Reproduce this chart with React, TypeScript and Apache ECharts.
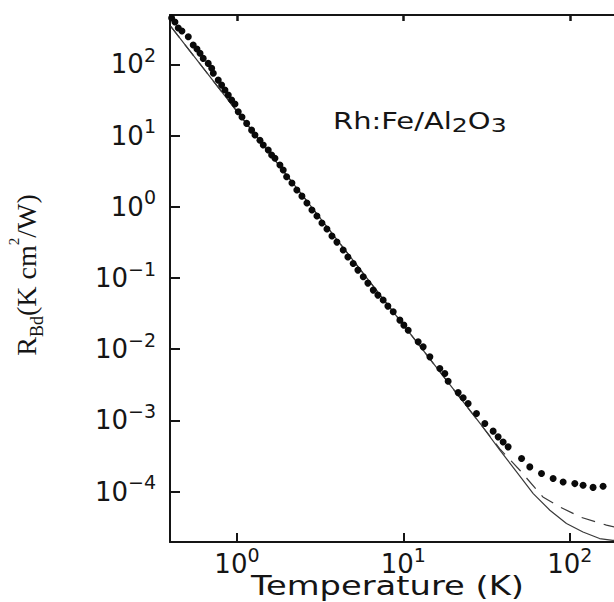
import React, { useEffect, useRef } from "react";
import * as echarts from "echarts";

// Measured data points (Temperature K, R_Bd K cm^2/W)
const dotT = [0.405, 0.424, 0.444, 0.467, 0.51, 0.546, 0.575, 0.6, 0.627, 0.672, 0.705, 0.721, 0.772, 0.809, 0.847, 0.887, 0.929, 0.973, 1.018, 1.072, 1.144, 1.225, 1.283, 1.374, 1.439, 1.542, 1.616, 1.692, 1.812, 1.897, 1.988, 2.14, 2.29, 2.457, 2.633, 2.822, 3.024, 3.24, 3.472, 3.721, 3.987, 4.35, 4.64, 4.995, 5.33, 5.74, 6.12, 6.59, 7.03, 7.56, 8.07, 8.69, 9.53, 10.07, 10.69, 12.27, 13.15, 14.43, 16.56, 17.75, 18.58, 21.34, 22.87, 24.5, 27.5, 30.87, 34.62, 37.1, 39.77, 42.6, 51.3, 57.5, 67.6, 79.4, 91.2, 107.2, 120.2, 138, 158.5];
const dotR = [447, 393, 324, 294, 244, 187, 164, 143, 121, 103, 88, 75, 60, 51, 43.5, 37, 31.5, 27.7, 21.6, 18.2, 14.8, 11.9, 10.2, 8.6, 7.36, 6.26, 5.32, 4.79, 3.85, 3.28, 2.64, 2.15, 1.72, 1.41, 1.127, 0.899, 0.74, 0.59, 0.486, 0.388, 0.319, 0.247, 0.1966, 0.16, 0.129, 0.104, 0.0848, 0.0676, 0.0575, 0.049, 0.0403, 0.0335, 0.0256, 0.0218, 0.0185, 0.0127, 0.0108, 0.00782, 0.00537, 0.00457, 0.00356, 0.00246, 0.00209, 0.00173, 0.00125, 9.08e-4, 7.08e-4, 5.89e-4, 5.0e-4, 4.26e-4, 2.92e-4, 2.23e-4, 1.8e-4, 1.53e-4, 1.37e-4, 1.3e-4, 1.23e-4, 1.15e-4, 1.19e-4];

// Solid model curve
const solidT = [0.4, 10, 30, 38, 47.9, 60.3, 75.9, 95.5, 120, 151, 181, 220];
const solidR = [340, 0.022, 8.1e-4, 3.83e-4, 1.9e-4, 9.4e-5, 5.5e-5, 3.57e-5, 2.72e-5, 2.2e-5, 2.08e-5, 2.0e-5];

// Dashed model curve
const dashT = [0.4, 10, 25, 38, 50.1, 68.9, 87.1, 117.5, 166, 220];
const dashR = [340, 0.022, 1.4e-3, 4.0e-4, 2.0e-4, 8.45e-5, 6.1e-5, 4.35e-5, 3.4e-5, 2.9e-5];

const SANS = "DejaVu Sans";
const SERIF = "Liberation Serif";
const INK = "#151515";

function powLabel(v: number) {
  const l = Math.log10(v);
  const e = Math.round(l);
  if (Math.abs(l - e) > 1e-6) return "";
  const s = e < 0 ? "\u2212" + -e : String(e);
  return `{b|10}{s|${s}}`;
}

const tickRich = {
  b: { fontFamily: SANS, fontSize: 26, lineHeight: 38, color: INK },
  s: { fontFamily: SANS, fontSize: 19, lineHeight: 19, verticalAlign: "top", color: INK },
};

export default function App() {
  const ref = useRef<HTMLDivElement>(null);
  useEffect(() => {
    if (!ref.current) return;
    const chart = echarts.init(ref.current, undefined, { renderer: "svg" });
    const pair = (xs: number[], ys: number[]) => xs.map((x, i) => [x, ys[i]]);
    const xCommon = {
      type: "log",
      min: 0.396,
      max: 316.2,
      splitNumber: 5,
      axisLine: { show: true, lineStyle: { color: INK, width: 2 } },
      splitLine: { show: false },
      minorTick: { show: false },
    };
    chart.setOption({
      animation: false,
      backgroundColor: "#ffffff",
      grid: { left: 170, top: 15, right: 0, bottom: 60 },
      xAxis: [
        {
          ...xCommon,
          position: "bottom",
          axisTick: { show: true, inside: true, length: 9, lineStyle: { color: INK, width: 2 } },
          axisLabel: { show: true, margin: 3, formatter: powLabel, rich: tickRich, showMinLabel: false, showMaxLabel: false },
        },
        {
          ...xCommon,
          position: "top",
          axisTick: { show: true, inside: true, length: 6, lineStyle: { color: INK, width: 2.5 } },
          axisLabel: { show: false },
        },
      ],
      yAxis: {
        type: "log",
        min: 1.968e-5,
        max: 492,
        splitNumber: 5,
        axisLine: { show: true, lineStyle: { color: INK, width: 2 } },
        axisTick: { show: true, inside: true, length: 10, lineStyle: { color: INK, width: 2 } },
        axisLabel: { show: true, margin: 14, formatter: powLabel, rich: tickRich, showMinLabel: false, showMaxLabel: false },
        splitLine: { show: false },
        minorTick: { show: false },
      },
      graphic: [
        {
          type: "text",
          x: 26,
          y: 275,
          rotation: Math.PI / 2,
          style: {
            text: "{r|R}{b|Bd}{n|(K cm}{s|2}{n|/W)}",
            align: "center",
            verticalAlign: "middle",
            fill: INK,
            rich: {
              r: { fontFamily: SERIF, fontSize: 28, lineHeight: 40, fill: INK },
              b: { fontFamily: SERIF, fontSize: 18, lineHeight: 24, verticalAlign: "bottom", fill: INK },
              n: { fontFamily: SERIF, fontSize: 28, lineHeight: 40, fill: INK },
              s: { fontFamily: SERIF, fontSize: 15, lineHeight: 26, verticalAlign: "top", fill: INK },
            },
          },
        },
        {
          type: "text",
          x: 387.5,
          y: 586,
          scaleX: 1.25,
          style: {
            text: "Temperature (K)",
            fontFamily: SANS,
            fontSize: 27,
            align: "center",
            verticalAlign: "middle",
            fill: INK,
          },
        },
        {
          type: "text",
          x: 333,
          y: 121,
          scaleX: 1.26,
          style: {
            text: "{a|Rh:Fe/Al}{s|2}{a|O}{s|3}",
            align: "left",
            verticalAlign: "middle",
            fill: INK,
            rich: {
              a: { fontFamily: SANS, fontSize: 23, lineHeight: 28, fill: INK },
              s: { fontFamily: SANS, fontSize: 20, lineHeight: 18, verticalAlign: "bottom", fill: INK },
            },
          },
        },
      ],
      series: [
        {
          type: "line",
          name: "solid",
          data: pair(solidT, solidR),
          showSymbol: false,
          lineStyle: { color: "#3a3a3a", width: 1.2, type: "solid" },
          clip: true,
          z: 2,
        },
        {
          type: "line",
          name: "dashed",
          data: pair(dashT, dashR),
          showSymbol: false,
          lineStyle: { color: "#3a3a3a", width: 1.2, type: [14, 9] },
          clip: true,
          z: 2,
        },
        {
          type: "scatter",
          name: "data",
          data: pair(dotT, dotR),
          symbol: "circle",
          symbolSize: 7,
          itemStyle: { color: "#0a0a0a", opacity: 1 },
          clip: false,
          z: 3,
        },
      ],
    });
    return () => chart.dispose();
  }, []);
  return (
    <div style={{ position: "absolute", left: 0, top: 0, width: 614, height: 602, overflow: "hidden" }}>
      <div ref={ref} style={{ width: 653, height: 602 }} />
    </div>
  );
}
